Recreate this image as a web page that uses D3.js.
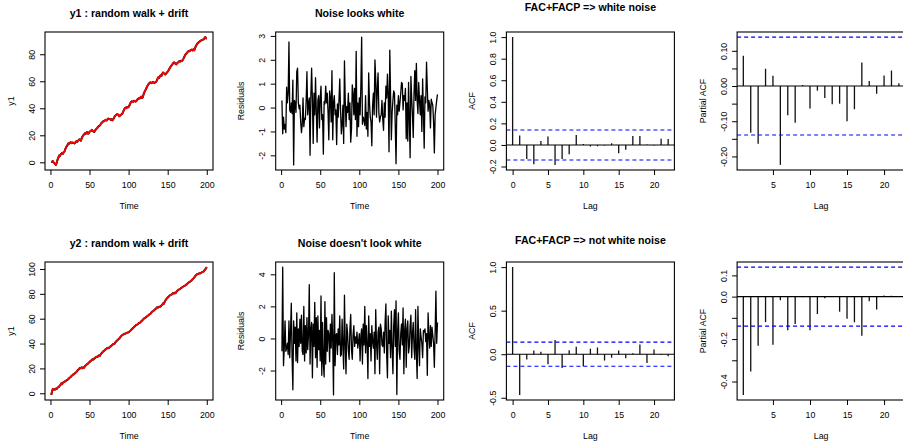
<!DOCTYPE html>
<html><head><meta charset="utf-8">
<script src="https://cdn.jsdelivr.net/npm/d3@7"></script>
<style>body{margin:0;background:#fff} text{font-family:"Liberation Sans",Arial,Helvetica,sans-serif;fill:#000}</style>
</head><body><svg id="c" width="903" height="441" style="display:block;background:#fff"></svg>
<script>
// ---------- data ----------
const y1 = [0.5,0.3,0.9,0.0,-0.6,-1.2,-1.9,-0.4,1.8,3.2,
5.0,4.6,5.8,6.4,7.0,6.3,7.6,8.0,9.7,11.1,
12.0,12.9,14.1,13.8,14.5,14.9,14.2,14.7,14.3,14.5,
14.0,14.8,15.6,15.0,15.9,16.4,17.0,16.6,16.0,17.8,
19.1,20.0,20.6,21.4,21.0,22.0,22.4,21.2,21.5,22.6,
23.0,23.4,24.0,23.2,22.8,22.5,23.6,24.2,24.9,25.5,
26.3,26.9,27.2,28.0,28.9,29.5,30.0,30.6,30.4,31.2,
31.5,31.0,31.8,32.4,32.1,32.0,31.4,32.0,31.1,31.5,
32.6,33.8,34.5,35.0,35.6,35.5,35.2,34.1,34.5,35.1,
35.6,36.0,37.4,38.6,39.9,40.5,40.1,40.9,40.6,41.0,
42.0,43.6,44.5,45.2,44.6,45.0,45.6,45.2,44.9,45.5,
46.3,46.9,47.5,47.2,48.0,48.6,47.7,48.0,50.1,51.6,
53.0,53.9,55.2,56.5,57.4,58.3,59.0,59.2,58.6,59.0,
59.4,59.0,58.8,59.2,59.5,60.4,61.8,63.0,62.4,63.8,
64.5,63.9,65.6,66.5,66.0,65.4,65.0,65.8,66.4,67.2,
68.0,69.1,70.2,71.0,71.8,72.6,73.4,74.0,73.6,72.8,
72.5,73.4,73.8,74.4,75.0,74.6,75.2,74.9,75.5,76.6,
77.8,79.0,80.0,80.6,81.4,82.0,82.5,82.2,83.0,83.2,
83.5,82.8,83.6,83.0,84.6,86.0,87.0,87.9,88.6,89.0,
89.5,89.9,90.3,90.6,90.8,91.0,91.9,92.7,91.8,91.5];

const y2 = [-1.3,1.2,3.5,2.6,3.2,3.0,3.8,3.5,4.4,4.9,
5.3,6.2,6.8,8.0,7.4,8.6,8.9,9.2,9.8,10.0,
10.6,11.0,11.4,12.3,12.7,13.2,14.0,14.4,15.1,15.3,
15.9,16.4,17.0,17.8,18.5,19.2,19.8,20.5,20.1,20.8,
20.2,20.9,20.5,21.6,22.4,22.9,23.5,23.9,24.6,25.0,
25.8,26.2,26.9,27.4,27.1,28.0,28.5,28.9,29.4,29.2,
29.8,30.4,30.0,31.1,31.9,32.6,33.4,33.9,34.4,35.0,
35.7,35.9,36.6,36.3,36.5,37.4,37.8,38.2,38.9,39.4,
39.6,40.0,40.9,41.6,42.2,42.9,43.5,44.0,44.9,45.6,
46.4,47.0,47.2,47.6,47.9,48.1,48.3,48.7,48.9,49.0,
49.6,50.2,50.8,51.5,52.1,52.7,53.3,54.0,54.6,55.0,
55.3,55.8,56.4,56.7,57.0,57.8,58.4,59.0,59.7,60.3,
60.6,61.0,61.6,62.1,62.6,63.2,63.6,64.0,64.9,65.6,
66.0,66.4,67.0,67.6,68.1,68.9,69.3,69.0,69.6,69.5,
70.0,70.6,71.2,72.3,72.0,73.4,74.6,75.5,76.3,77.0,
77.6,78.3,78.8,79.3,79.5,80.0,80.6,80.2,80.9,80.5,
81.4,82.2,82.9,83.3,83.7,84.0,84.6,85.0,85.5,85.9,
86.3,86.6,87.0,87.5,88.1,88.6,89.2,89.6,90.0,90.5,
91.1,91.8,92.5,93.2,94.0,95.0,95.4,95.8,96.1,96.3,
96.6,96.5,97.0,97.5,97.7,98.0,98.8,99.6,100.5,101.5];

const res1 = [0.3,-1.1,-0.4,-0.9,-0.7,-1.05,0.85,0.2,0.6,2.75,
-0.1,-0.2,0.2,-0.25,1.15,-2.4,0.3,0.2,-0.2,1.5,
1.65,0.2,-0.05,0.1,-0.6,-1.05,-0.7,0.4,-0.8,-0.45,
-0.5,0.3,1.5,-0.3,0.2,0.4,-2.0,0.5,1.65,0.3,
-1.5,0.6,-0.3,1.25,-0.2,-1.45,0.3,0.5,-0.85,0.4,
0.9,-0.5,-0.3,-1.95,0.25,0.15,0.9,0.2,0.6,-0.2,
-1.35,0.7,0.4,-0.6,1.55,-1.35,0.2,0.5,-0.3,-0.1,
-1.55,0.15,-0.4,0.3,1.2,-0.1,-1.1,-0.7,0.1,-1.5,
1.95,0.3,-0.8,0.05,-0.2,0.6,-0.5,0.2,-1.45,-0.9,
0.95,0.6,-0.3,0.8,-0.5,2.35,-1.2,0.2,-0.8,0.4,
-0.3,0.9,2.95,-0.7,-0.4,-0.5,-0.75,0.5,-0.9,-0.2,
-1.2,1.45,0.2,-0.4,-0.6,-1.6,0.1,0.6,-0.3,2.0,
1.2,-0.4,0.8,1.45,-0.2,-0.6,-0.4,-0.3,0.3,-0.5,
-0.95,0.2,-0.4,0.9,0.4,1.4,0.5,-1.85,2.4,0.5,
-1.35,-0.2,0.3,0.7,0.6,-0.8,-2.35,0.1,-0.3,0.5,
-0.15,0.2,0.6,1.05,1.0,-0.1,0.5,0.3,0.8,-1.3,
0.2,-1.4,1.05,-0.4,-2.1,1.3,0.4,-0.3,-1.25,0.6,
1.55,0.3,1.85,0.3,-0.25,1.05,0.3,-0.3,0.5,-1.0,
1.2,-0.2,-1.7,0.45,0.2,1.9,0.8,-0.15,0.3,0.1,
-0.85,0.35,0.2,0.1,-0.6,-1.9,-0.3,0.0,0.3,0.55];

const res2 = [-0.8,4.45,-1.7,-0.6,1.1,-0.8,-0.6,-0.3,-1.0,1.1,
-1.2,0.4,2.2,-1.2,-3.2,1.1,-0.3,0.7,-1.4,1.6,
-1.5,0.6,-0.5,1.2,-0.3,1.45,-0.8,-1.0,2.0,-1.4,
0.8,-0.9,1.3,-0.7,0.2,3.35,-1.6,0.6,1.0,-2.45,
0.9,-0.5,2.25,-1.2,1.3,-1.8,1.4,-0.7,0.5,-1.4,
2.65,-2.3,1.0,-1.5,-2.4,2.3,-1.6,1.3,-0.8,0.5,
0.3,-1.45,0.9,-0.6,1.5,-0.2,-3.52,4.1,-1.7,0.2,
0.3,-1.0,0.6,-0.4,1.4,-1.1,-1.0,1.2,-0.5,-1.9,
2.7,-0.4,-2.2,0.9,0.3,-0.8,-1.3,0.6,1.5,-0.7,
-1.3,0.2,0.8,-0.5,0.1,-0.3,0.4,-0.6,-0.2,0.3,
-1.4,0.2,0.6,-1.6,0.9,-0.4,2.0,-0.9,0.8,-0.3,
-2.5,1.4,-0.5,0.3,-1.4,0.8,-0.2,-0.6,0.4,-2.2,
1.8,-0.3,-1.3,0.4,0.7,-2.2,0.9,0.6,-0.4,-0.5,
0.4,-0.9,1.0,2.15,-1.0,-2.45,1.4,-0.3,0.5,-1.2,
1.7,-0.6,-2.2,0.8,1.8,-0.5,2.35,-3.5,0.4,1.6,
-0.8,-1.3,0.3,0.9,-0.4,1.9,-2.2,0.5,1.2,-1.8,
0.6,1.1,-0.9,-0.5,0.8,1.45,-1.2,0.3,1.0,-0.6,
-1.3,1.8,-0.9,-2.5,2.0,-0.4,-1.7,0.6,0.1,-0.3,
-1.2,0.5,0.4,0.6,-0.2,0.3,-2.3,1.6,0.2,-0.6,
0.8,-0.5,0.7,0.2,-0.3,-1.8,0.4,2.95,-0.3,1.0];

const acfLags = [0,1,2,3,4,5,6,7,8,9,10,11,12,13,14,15,16,17,18,19,20,21,22];
const pacfLags = [1,2,3,4,5,6,7,8,9,10,11,12,13,14,15,16,17,18,19,20,21,22];
const acf1 = [1.0,0.087,-0.13,-0.18,0.037,0.078,-0.185,-0.13,-0.087,0.093,0.009,-0.015,-0.012,-0.005,0.015,-0.078,-0.045,0.083,0.083,0.005,-0.005,0.058,0.055];
const pacf1 = [0.086,-0.133,-0.164,0.049,0.029,-0.224,-0.083,-0.104,0.003,-0.064,-0.013,-0.034,-0.052,-0.05,-0.1,-0.066,0.067,0.014,-0.022,0.03,0.044,0.008];
const acf2 = [1.0,-0.467,-0.062,0.042,0.027,-0.116,0.162,-0.158,0.046,0.085,-0.139,0.062,0.077,-0.073,-0.042,0.042,-0.046,0.012,0.112,-0.1,0.054,-0.008,-0.023];
const pacf2 = [-0.463,-0.353,-0.231,-0.12,-0.227,-0.017,-0.159,-0.129,-0.003,-0.159,-0.082,-0.008,0.003,-0.071,-0.104,-0.121,-0.184,-0.022,-0.061,0.005,0.004,0.003];
const ciBound = 0.139;

const titles = ["y1 : random walk + drift","Noise looks white","FAC+FACP => white noise","",
                "y2 : random walk + drift","Noise doesn't look white","FAC+FACP => not white noise",""];
const timeTicks = [0,50,100,150,200];
const acfXTicks = [0,5,10,15,20];
const pacfXTicks = [5,10,15,20];
const y1Ticks = [0,20,40,60,80];
const y2Ticks = [0,20,40,60,80,100];
const res1Ticks = [-2,-1,0,1,2,3];
const res2Ticks = [-2,0,2,4];
const acf1Ticks = [-0.2,0,0.2,0.4,0.6,0.8,1.0];
const acf2Ticks = [-0.5,0,0.5,1.0];
const pacf1Ticks = [-0.20,-0.15,-0.10,-0.05,0,0.05,0.10];
const pacf1Labels = [-0.20,-0.10,0,0.10];
const pacf2Ticks = [-0.4,-0.3,-0.2,-0.1,0,0.1];
const pacf2Labels = [-0.4,-0.2,0,0.1];

// ---------- layout ----------
const svg = d3.select("#c");
svg.append("rect").attr("width",903).attr("height",441).attr("fill","#fff");
const colW = 230.7, rowH = 230;
const L = 45, R = 213, T = 32, B = 170;
const tickFS = 8.8, titleFS = 10.6;
const rExt = ([a,b]) => { const d = (b-a)*0.04; return [a-d, b+d]; };
let clipId = 0;

function panel(col,row,o){
  const g = svg.append("g").attr("transform",`translate(${col*colW},${row*rowH})`);
  const x = d3.scaleLinear().domain(rExt(o.xDom)).range([L,R]);
  const y = d3.scaleLinear().domain(rExt(o.yDom)).range([B,T]);
  const id = "clip"+(clipId++);
  g.append("clipPath").attr("id",id).append("rect").attr("x",L).attr("y",T).attr("width",R-L).attr("height",B-T);
  const plot = g.append("g").attr("clip-path",`url(#${id})`);
  o.draw(plot,x,y);
  // box
  g.append("rect").attr("x",L).attr("y",T).attr("width",R-L).attr("height",B-T)
    .attr("fill","none").attr("stroke","#000").attr("stroke-width",1.1);
  // x axis
  const xa = g.append("g").attr("transform",`translate(0,${B})`)
    .call(d3.axisBottom(x).tickValues(o.xTicks).tickSize(5).tickSizeOuter(0).tickFormat(d=>String(d)));
  xa.select(".domain").remove();
  xa.selectAll("line").attr("stroke","#000");
  xa.selectAll("text").attr("y",15).attr("dy","0.35em").attr("font-size",tickFS)
    .attr("font-family",'"Liberation Sans",Arial,sans-serif').attr("fill","#000");
  // y axis
  const lab = o.yLabels || o.yTicks;
  const ya = g.append("g").attr("transform",`translate(${L},0)`)
    .call(d3.axisLeft(y).tickValues(o.yTicks).tickSize(5).tickSizeOuter(0)
      .tickFormat(d => lab.some(v=>Math.abs(v-d)<1e-9) ? o.fmt(d) : ""));
  ya.select(".domain").remove();
  ya.selectAll("line").attr("stroke","#000");
  ya.selectAll("text").attr("x",null).attr("dy","0.35em").attr("text-anchor","middle")
    .attr("transform","translate(-13.5,0) rotate(-90)").attr("font-size",tickFS)
    .attr("font-family",'"Liberation Sans",Arial,sans-serif').attr("fill","#000");
  // axis titles
  g.append("text").attr("x",(L+R)/2).attr("y",B+35.5).attr("dy","0.35em").attr("text-anchor","middle")
    .attr("font-size",tickFS).text(o.xLab);
  g.append("text").attr("transform",`translate(${L-34.5},${(T+B)/2}) rotate(-90)`).attr("dy","0.35em")
    .attr("text-anchor","middle").attr("font-size",tickFS).text(o.yLab);
  if(o.title){
    g.append("text").attr("x",(L+R)/2).attr("y",o.titleY).attr("dy","0.35em").attr("text-anchor","middle")
      .attr("font-size",titleFS).attr("font-weight","bold").text(o.title);
  }
}

const idx = d3.range(1,201);
function seriesPanel(col,row,vals,ticks,yLab,title,red){
  panel(col,row,{
    xDom:[1,200], yDom:d3.extent(vals), xTicks:timeTicks, yTicks:ticks, fmt:d=>String(d),
    xLab:"Time", yLab:yLab, title:title, titleY:13.5,
    draw:(p,x,y)=>{
      const line = d3.line().x((d,i)=>x(idx[i])).y(d=>y(d));
      p.append("path").datum(vals).attr("d",line).attr("fill","none").attr("stroke","#000")
        .attr("stroke-width",red?2.0:1.3).attr("stroke-linejoin","round");
      if(red) p.append("path").datum(vals).attr("d",line).attr("fill","none").attr("stroke","#ff0000")
        .attr("stroke-width",1.7).attr("stroke-linejoin","round");
    }
  });
}
function corrPanel(col,row,lags,vals,xTicks,yTicks,yLabels,fmt,yLab,title,titleY){
  panel(col,row,{
    xDom:d3.extent(lags), yDom:[Math.min(d3.min(vals),-ciBound), Math.max(d3.max(vals),ciBound)],
    xTicks:xTicks, yTicks:yTicks, yLabels:yLabels, fmt:fmt, xLab:"Lag", yLab:yLab, title:title, titleY:titleY,
    draw:(p,x,y)=>{
      p.selectAll("line.bar").data(vals).enter().append("line").attr("class","bar")
        .attr("x1",(d,i)=>x(lags[i])).attr("x2",(d,i)=>x(lags[i]))
        .attr("y1",y(0)).attr("y2",d=>y(d)).attr("stroke","#111").attr("stroke-width",1.3);
      p.append("line").attr("x1",L).attr("x2",R+30).attr("y1",y(0)).attr("y2",y(0))
        .attr("stroke","#000").attr("stroke-width",1.1);
      [ciBound,-ciBound].forEach(c=>{
        p.append("line").attr("x1",L).attr("x2",R+30).attr("y1",y(c)).attr("y2",y(c))
          .attr("stroke","#0000ff").attr("stroke-width",1.1).attr("stroke-dasharray","4,3");
      });
    }
  });
}
const f1 = d=>d.toFixed(1), f2 = d=>d.toFixed(2);

seriesPanel(0,0,y1,y1Ticks,"y1",titles[0],true);
seriesPanel(1,0,res1,res1Ticks,"Residuals",titles[1],false);
corrPanel(2,0,acfLags,acf1,acfXTicks,acf1Ticks,null,f1,"ACF",titles[2],7.5);
corrPanel(3,0,pacfLags,pacf1,pacfXTicks,pacf1Ticks,pacf1Labels,f2,"Partial ACF",titles[3],7.5);
seriesPanel(0,1,y2,y2Ticks,"y1",titles[4],true);
seriesPanel(1,1,res2,res2Ticks,"Residuals",titles[5],false);
corrPanel(2,1,acfLags,acf2,acfXTicks,acf2Ticks,null,f1,"ACF",titles[6],10);
corrPanel(3,1,pacfLags,pacf2,pacfXTicks,pacf2Ticks,pacf2Labels,f1,"Partial ACF",titles[7],10);
</script></body></html>
